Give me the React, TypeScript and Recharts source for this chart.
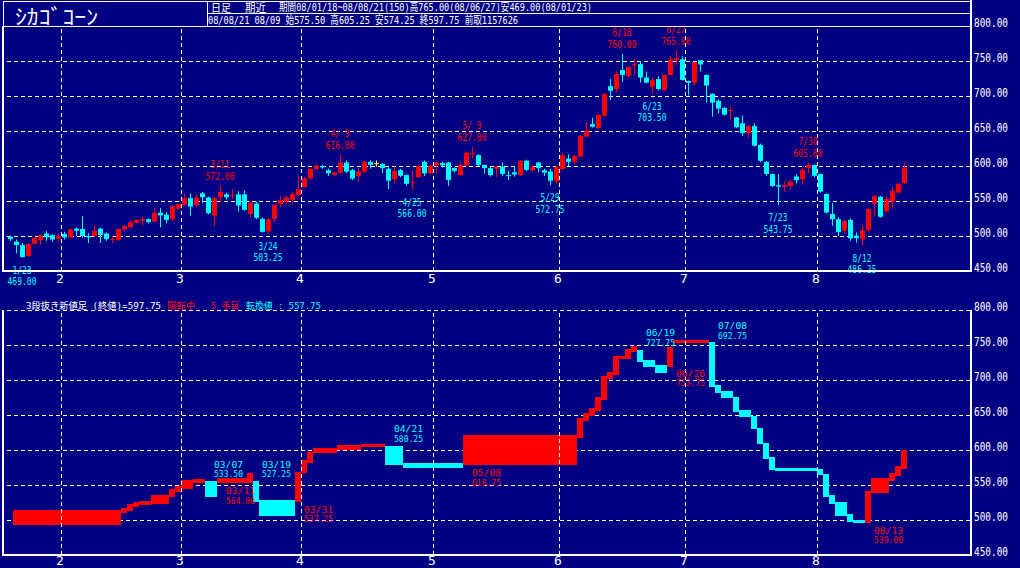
import React from 'react';
import {
  ComposedChart,
  Bar,
  XAxis,
  YAxis,
  CartesianGrid,
  ReferenceLine,
  ReferenceArea,
  ReferenceDot,
} from 'recharts';

const NAVY = '#000080';
const RED = '#ff0000';
const CYAN = '#00ffff';
const YELLOW = '#ffff00';
const WHITE = '#ffffff';
const MONO = "'DejaVu Sans Mono', 'Noto Sans CJK JP', monospace";
const JP = "'Noto Sans CJK JP', sans-serif";

// daily bars, 08/01/18 .. 08/08/21 (150 trading days)
const opens = [
  499, 492, 487, 471.5, 489, 494, 503.5, 501, 496, 503, 498, 510.5, 510, 500, 500, 510.5, 503.5, 495, 494, 509.5,
  512.5, 519, 522, 524, 520.5, 533, 530.5, 524, 539, 544.5, 554, 544, 561, 555, 529, 555.5, 559.5, 558, 559.5, 559.5,
  531.5, 546.5, 524.5, 507, 524.5, 545.5, 549, 551.5, 558.5, 570, 582.5, 595.5, 600, 594, 587, 590.5, 605, 594, 586, 592,
  606, 604, 603, 596, 581, 594, 587, 576, 584, 606, 589.5, 601, 604, 605, 597, 587, 600.5, 617, 615.5, 601.5,
  597, 596, 599, 587, 591, 587, 607.5, 593.5, 605, 594, 592, 578, 595.5, 610.5, 606, 613.5, 642, 660, 654, 672,
  714, 710, 737, 728.5, 744.5, 745.5, 726.5, 713.5, 724, 708.5, 730, 751.5, 752.5, 721.5, 719, 751, 730, 703, 693, 683,
  678.5, 669.5, 661, 647, 657, 630, 606, 588.5, 572.5, 570.5, 571.5, 585, 581, 597, 601.5, 588.5, 560, 531.5, 524, 507.5,
  523, 500.5, 495.5, 508.5, 546, 556, 535, 549, 562, 575.5,
];
const highs = [
  500.5, 495, 490, 490, 498, 502, 507, 502, 504, 506, 510, 512, 528.5, 504, 515, 512, 505, 500, 511, 516,
  522, 524, 528, 525, 541, 540, 534, 544, 546, 560, 561, 560, 563, 556, 556, 572, 562, 567, 564, 565,
  549, 549, 526, 526, 545, 557, 557, 563, 587, 584, 597, 602, 602, 596, 592, 616, 608, 596, 597, 607,
  608, 608, 604, 598, 599, 596, 588, 593, 601, 608, 602, 606, 606, 606, 598, 604, 621, 627, 617, 602,
  599, 600, 605, 593, 600, 608, 609, 601, 606, 596, 596, 600, 618, 617, 616, 645, 663, 669, 674, 704,
  724, 735, 760, 742, 754, 750, 735, 726.5, 728, 731, 757, 765, 757, 722, 749, 751, 731, 704, 695, 684,
  684, 670, 672, 659, 661, 632, 607, 589, 588, 578, 580, 588, 597, 605, 602, 589, 561, 547, 527, 523,
  525, 505, 516, 540, 558.5, 557, 557, 570, 576, 605.25,
];
const lows = [
  493, 475, 469, 470, 488, 487, 493, 492, 492, 495, 497, 500, 498, 490, 498, 490, 493, 490, 494, 507,
  511, 518, 515, 518, 520, 512.5, 518, 521, 538, 544, 529, 542, 547, 531, 514, 548, 552, 553, 535, 536,
  527, 524, 505, 503.25, 520, 541, 545, 546, 557, 569, 580, 595, 596, 586, 585, 589, 590, 580, 577.5, 590,
  596, 599, 590, 567, 575, 584, 572, 566, 583, 586, 588, 589, 598, 571.5, 591, 586, 600, 611, 600, 589,
  585, 584, 586, 580, 585, 586, 593, 592, 591, 586, 572.75, 575, 595, 600, 603, 612, 641, 655, 652, 671,
  694, 705, 720.5, 726, 730, 719, 718, 703.5, 708, 707, 730, 744, 722, 701, 715, 735, 690.5, 670.5, 675, 672,
  665, 654, 643, 640, 628, 606, 586, 570, 543.75, 563, 567, 575, 573, 590, 584, 562, 532, 514.5, 500, 503,
  493, 490.5, 486.25, 506, 528.5, 526, 534, 540, 561, 574.25,
];
const closes = [
  495.5, 487, 470, 488.5, 497.5, 501, 498, 495, 500, 498, 509.5, 507.5, 500, 498, 507.5, 501.5, 495.5, 496, 510, 514,
  520, 523, 524, 520, 533, 529.5, 523, 543, 545.5, 554, 542, 555, 555.5, 532.5, 554, 563, 555.5, 559, 543.5, 537.5,
  547.5, 526, 506, 524, 544.5, 551.5, 555, 560, 567, 582.5, 596, 600.5, 598, 589.5, 590.5, 605, 592, 582, 592, 606,
  601.5, 604, 597, 579, 593, 586, 574.5, 577.5, 600, 589.5, 600.5, 605, 601, 580, 593, 601.5, 619, 618, 601.5, 597,
  587, 599, 588.5, 586, 588, 607.5, 594.5, 599, 597, 590.5, 579, 599, 615.5, 606, 614.5, 643, 650.5, 656, 673, 703,
  707.5, 731.5, 730, 741.5, 745.5, 726.5, 719, 723, 710, 730, 752.5, 754, 723, 719, 748.5, 745, 715, 690.5, 682, 673.5,
  680, 655.5, 647, 657, 629, 607.5, 588.5, 571.5, 570.5, 573, 577.5, 580, 594.5, 601.5, 586, 563.5, 533.5, 524, 505.5, 521.5,
  496.5, 497, 508.5, 538.5, 557, 527.5, 553, 564.5, 574.5, 597.75,
];

const SLOTS = 161; // 150 days plus the empty room on the right
const monthStarts = [9, 29, 49, 71, 92, 113, 135];
const monthNames = ['2', '3', '4', '5', '6', '7', '8'];
const priceTicks = [450, 500, 550, 600, 650, 700, 750, 800];

const highMarks = [
  { i: 35, date: '3/11', value: 572.0 },
  { i: 55, date: '4/ 9', value: 616.0 },
  { i: 77, date: '5/ 9', value: 627.0 },
  { i: 102, date: '6/18', value: 760.0 },
  { i: 111, date: '6/27', value: 765.0 },
  { i: 133, date: '7/30', value: 605.0 },
];
const lowMarks = [
  { i: 2, date: '1/23', value: 469.0 },
  { i: 43, date: '3/24', value: 503.25 },
  { i: 67, date: '4/25', value: 566.0 },
  { i: 90, date: '5/29', value: 572.75 },
  { i: 107, date: '6/23', value: 703.5 },
  { i: 128, date: '7/23', value: 543.75 },
  { i: 142, date: '8/12', value: 486.25 },
];

// three line break: [first day, last day, from, to]
const upLines = [
  [1, 18, 493, 514], [19, 19, 510.5, 517.5], [20, 20, 513.5, 522.5], [21, 21, 519, 526], [22, 23, 521.5, 527],
  [24, 26, 523, 535.5], [27, 27, 532.5, 545], [28, 28, 540.5, 548.5], [29, 30, 545, 557], [31, 32, 553.5, 558.5],
  [35, 39, 553.5, 560.5], [40, 40, 553.5, 566.5], [48, 48, 526, 569], [49, 49, 566.7, 585.7], [50, 50, 582, 597.6],
  [51, 54, 595.2, 602.4], [55, 58, 600, 607], [59, 62, 603.8, 608.6], [76, 94, 578.6, 621.4], [95, 95, 617.6, 645.2],
  [96, 96, 641.9, 652.4], [97, 97, 648.6, 659.5], [98, 98, 656.2, 675.2], [99, 99, 671.4, 705.7], [100, 100, 701, 711.9],
  [101, 101, 707.1, 734.3], [102, 102, 729.5, 734.3], [103, 103, 729.5, 743.8], [104, 104, 740.5, 748.6],
  [110, 110, 719, 747.6], [111, 116, 752.4, 757], [143, 143, 496.2, 541.4], [144, 146, 538.1, 559.5],
  [147, 147, 556, 566.7], [148, 148, 562.9, 577.1], [149, 149, 572.9, 600],
];
const downLines = [
  [33, 34, 532.5, 556], [41, 41, 526, 556], [42, 47, 505.7, 528.6], [63, 65, 578.6, 605.7], [66, 75, 575, 581.9],
  [105, 105, 726.2, 742.9], [106, 107, 719, 728.6], [108, 109, 710.5, 721.4], [117, 117, 690.5, 754.8],
  [118, 118, 681.9, 692.9], [119, 120, 673.8, 684.3], [121, 121, 654.8, 675.2], [122, 123, 646.7, 657.1],
  [124, 124, 629.5, 648.6], [125, 125, 608.6, 631], [126, 126, 587.1, 609.5], [127, 127, 571.4, 589.5],
  [128, 134, 570.5, 574.8], [135, 135, 564.3, 572.9], [136, 136, 533.3, 565.2], [137, 137, 522.9, 535.7],
  [138, 139, 506.2, 526.2], [140, 140, 496.7, 508.6], [141, 142, 496.2, 500],
];
const breakNotes = [
  { i: 34, date: '03/07', value: '533.50', up: false, at: 578.6 },
  { i: 36, date: '03/11', value: '564.00', up: true, at: 541.4 },
  { i: 42, date: '03/19', value: '527.25', up: false, at: 578.6 },
  { i: 49, date: '03/31', value: '537.25', up: true, at: 514.3 },
  { i: 64, date: '04/21', value: '580.25', up: false, at: 630 },
  { i: 77, date: '05/08', value: '618.75', up: true, at: 567.1 },
  { i: 106, date: '06/19', value: '727.75', up: false, at: 767.1 },
  { i: 111, date: '06/26', value: '753.75', up: true, at: 708.6 },
  { i: 118, date: '07/08', value: '692.75', up: false, at: 777.1 },
  { i: 144, date: '08/13', value: '539.00', up: true, at: 484.3 },
];

const rows = Array.from({ length: SLOTS }, (_, i) =>
  i < opens.length
    ? { i, range: [lows[i], highs[i]], open: opens[i], high: highs[i], low: lows[i], close: closes[i] }
    : { i }
);

const Candle = (props: any) => {
  const { x, y, width, height, payload } = props;
  if (!payload || payload.open == null || x == null) return null;
  const top = Math.min(y, y + height);
  const bottom = Math.max(y, y + height);
  const { open, close, high, low } = payload;
  const py = (v: number) => (high === low ? top : top + ((high - v) / (high - low)) * (bottom - top));
  const color = close > open ? RED : close < open ? CYAN : YELLOW;
  const left = Math.round(x);
  const cx = left + 2.5;
  const bt = py(Math.max(open, close));
  const bb = py(Math.min(open, close));
  return (
    <g>
      <line x1={cx} x2={cx} y1={top} y2={bottom} stroke={color} strokeWidth={1} />
      <rect x={left} y={bt} width={5} height={Math.max(1, bb - bt)} fill={color} />
    </g>
  );
};

const PriceTick = (props: any) => {
  const { x, y, payload } = props;
  return (
    <text x={x + 1} y={y - 4} fill={WHITE} fontFamily={MONO} fontSize={13} textLength={34}
      lengthAdjust="spacingAndGlyphs" dominantBaseline="central">
      {Number(payload.value).toFixed(2)}
    </text>
  );
};

const monthTick = (dy: number) => (props: any) => {
  const { x, y, payload } = props;
  const k = monthStarts.indexOf(payload.value);
  return (
    <text x={x - 4} y={y + dy} fill={WHITE} fontFamily={MONO} fontSize={13} textAnchor="middle"
      dominantBaseline="central">
      {monthNames[k]}
    </text>
  );
};

const markShape = (date: string, value: number, color: string, d1: number, d2: number) => (p: any) => (
  <g>
    <text x={p.cx} y={p.cy + d1} fill={color} fontFamily={MONO} fontSize={10.5} textAnchor="middle"
      dominantBaseline="central" textLength={19} lengthAdjust="spacingAndGlyphs">{date}</text>
    <text x={p.cx} y={p.cy + d2} fill={color} fontFamily={MONO} fontSize={10.5} textAnchor="middle"
      dominantBaseline="central" textLength={29} lengthAdjust="spacingAndGlyphs">{value.toFixed(2)}</text>
  </g>
);

const noteShape = (date: string, value: string, color: string) => (p: any) => (
  <g>
    <text x={p.cx} y={p.cy - 0.5} fill={color} fontFamily={MONO} fontSize={9.5} dominantBaseline="central"
      textLength={29} lengthAdjust="spacingAndGlyphs">{date}</text>
    <text x={p.cx} y={p.cy + 9} fill={color} fontFamily={MONO} fontSize={9.5} dominantBaseline="central"
      textLength={29} lengthAdjust="spacingAndGlyphs">{value}</text>
  </g>
);

const axes = (tickDy: number, xHeight: number) => [
  <CartesianGrid key="grid" vertical={false} stroke={WHITE} strokeDasharray="4 3" shapeRendering="crispEdges" />,
  <XAxis key="x" dataKey="i" type="category" scale="band" ticks={monthStarts} interval={0} height={xHeight}
    tickSize={0} tickMargin={0} axisLine={false} tickLine={false} tick={monthTick(tickDy)} />,
  <YAxis key="y" orientation="right" type="number" domain={[450, 800]} ticks={priceTicks} interval={0}
    width={47} tickSize={0} tickMargin={0} axisLine={false} tickLine={false} tick={PriceTick} allowDataOverflow />,
  ...monthStarts.map((m) => (
    <ReferenceLine key={`v${m}`} x={m} position="start" stroke={WHITE} strokeDasharray="4 3"
      shapeRendering="crispEdges" />
  )),
];

function Frame() {
  return (
    <svg width={1020} height={568} style={{ position: 'absolute', left: 0, top: 0, pointerEvents: 'none' }}>
      {/* header boxes */}
      <rect x={3.5} y={1.5} width={204} height={25} fill={NAVY} stroke={WHITE} />
      <rect x={207.5} y={1.5} width={764} height={25} fill={NAVY} stroke={WHITE} />
      <line x1={207.5} x2={971.5} y1={13.5} y2={13.5} stroke={WHITE} />
      <text x={15} y={15} fill={WHITE} fontFamily={JP} fontSize={21} dominantBaseline="central" textLength={83}
        lengthAdjust="spacingAndGlyphs">ｼｶｺﾞｺｰﾝ</text>
      <text x={211} y={7.5} fill={WHITE} fontFamily={MONO} fontSize={11.5} dominantBaseline="central" textLength={20}
        lengthAdjust="spacingAndGlyphs">日足</text>
      <text x={245} y={7.5} fill={WHITE} fontFamily={MONO} fontSize={11.5} dominantBaseline="central" textLength={21}
        lengthAdjust="spacingAndGlyphs">期近</text>
      <text x={279} y={7.5} fill={WHITE} fontFamily={MONO} fontSize={11} dominantBaseline="central" textLength={313}
        lengthAdjust="spacingAndGlyphs">期間08/01/18~08/08/21(150)高765.00(08/06/27)安469.00(08/01/23)</text>
      <text x={208} y={20.5} fill={WHITE} fontFamily={MONO} fontSize={11} dominantBaseline="central" textLength={310}
        lengthAdjust="spacingAndGlyphs">08/08/21 08/09 始575.50 高605.25 安574.25 終597.75 前取1157626</text>

      {/* top plot frame */}
      <line x1={3} x2={3} y1={26} y2={272} stroke={WHITE} strokeWidth={2} />
      <line x1={2} x2={972} y1={271} y2={271} stroke={WHITE} strokeWidth={2} />
      <line x1={971} x2={971} y1={0} y2={272} stroke={WHITE} strokeWidth={2} />

      {/* lower panel caption */}
      <text x={26} y={305} fill={WHITE} fontFamily={MONO} fontSize={9.5} dominantBaseline="central" textLength={135}
        lengthAdjust="spacingAndGlyphs">3段抜き新値足 (終値)=597.75</text>
      <text x={167} y={305} fill={RED} fontFamily={MONO} fontSize={9.5} dominantBaseline="central" textLength={28}
        lengthAdjust="spacingAndGlyphs">陽転中</text>
      <text x={211} y={305} fill={RED} fontFamily={MONO} fontSize={9.5} dominantBaseline="central" textLength={28}
        lengthAdjust="spacingAndGlyphs">5 手目</text>
      <text x={246} y={305} fill={CYAN} fontFamily={MONO} fontSize={9.5} dominantBaseline="central" textLength={75}
        lengthAdjust="spacingAndGlyphs">転換値 : 557.75</text>

      {/* bottom plot frame */}
      <line x1={3} x2={3} y1={310} y2={556} stroke={WHITE} strokeWidth={2} />
      <line x1={2} x2={972} y1={555} y2={555} stroke={WHITE} strokeWidth={2} />
      <line x1={971} x2={971} y1={310} y2={556} stroke={WHITE} strokeWidth={2} />
    </svg>
  );
}

export default function App() {
  return (
    <div style={{ position: 'fixed', left: 0, top: 0, width: 1020, height: 568, background: NAVY, overflow: 'hidden' }}>
      <div style={{ position: 'absolute', left: 0, top: 0 }}>
        <ComposedChart width={1020} height={290} data={rows} margin={{ top: 26, right: 0, bottom: 0, left: 7 }}>
          {axes(7, 19)}
          <Bar dataKey="range" barSize={5} shape={Candle} isAnimationActive={false} />
          {highMarks.map((m) => (
            <ReferenceDot key={`h${m.i}`} x={m.i} y={m.value} r={0} shape={markShape(m.date, m.value, RED, -22, -10)} />
          ))}
          {lowMarks.map((m) => (
            <ReferenceDot key={`l${m.i}`} x={m.i} y={m.value} r={0} shape={markShape(m.date, m.value, CYAN, 12, 23.5)} />
          ))}
        </ComposedChart>
      </div>
      <div style={{ position: 'absolute', left: 0, top: 290 }}>
        <ComposedChart width={1020} height={278} data={rows} margin={{ top: 20, right: 0, bottom: 0, left: 7 }}>
          {axes(5.5, 13)}
          {upLines.map(([a, b, lo, hi]) => (
            <ReferenceArea key={`u${a}`} x1={a} x2={b} y1={lo} y2={hi} fill={RED} fillOpacity={1} stroke="none"
              shapeRendering="crispEdges" />
          ))}
          {downLines.map(([a, b, lo, hi]) => (
            <ReferenceArea key={`d${a}`} x1={a} x2={b} y1={lo} y2={hi} fill={CYAN} fillOpacity={1} stroke="none"
              shapeRendering="crispEdges" />
          ))}
          {breakNotes.map((n) => (
            <ReferenceDot key={`n${n.i}`} x={n.i} y={n.at} r={0}
              shape={noteShape(n.date, n.value, n.up ? RED : CYAN)} />
          ))}
        </ComposedChart>
      </div>
      <Frame />
    </div>
  );
}
